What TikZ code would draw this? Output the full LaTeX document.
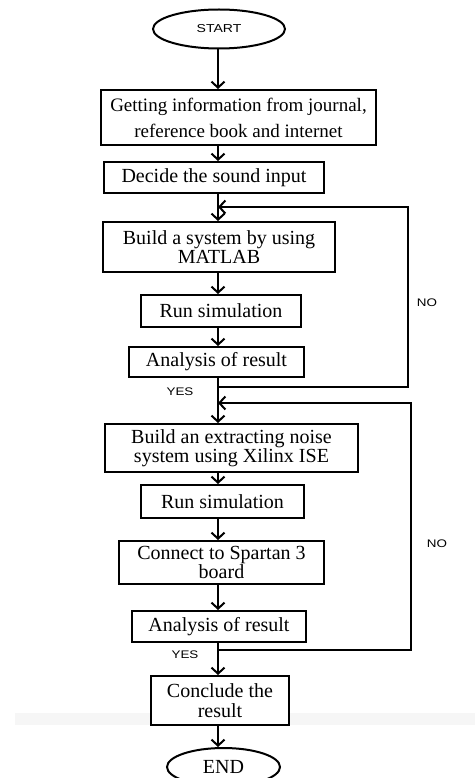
\documentclass[tikz,border=0pt]{standalone}
\usepackage{fontspec}
\setmainfont{Liberation Serif}
\newfontfamily\labelsf[FakeStretch=1.22]{Liberation Sans}
\usepackage{tikz}
\usetikzlibrary{arrows.meta}
\usetikzlibrary{shapes.geometric}

\begin{document}
\begin{tikzpicture}[x=1pt, y=-1pt,
	stepbox/.style={draw, line width=2pt, fill=white, rectangle, align=center, inner sep=0pt,
		font=\fontsize{20}{19.5}\selectfont},
	term/.style={draw, line width=2pt, fill=white, ellipse, inner sep=0pt},
	flow/.style={line width=2pt, -{Straight Barb[length=6pt, width=13pt]}},
	tag/.style={font=\labelsf\fontsize{11}{12}\selectfont, inner sep=0pt}]
	\useasboundingbox (0,0) rectangle (475,778);
	% faint band of the scan
	\fill [gray!7] (15,713) rectangle (475,725);

	% main column
	\coordinate (spine) at (218,0);
	\node [term, minimum width=132, minimum height=39, font=\labelsf\fontsize{11.5}{12}\selectfont] (start) at (219,29) {START};
	\node [stepbox, minimum width=275, minimum height=55, font=\fontsize{19}{18}\selectfont] (info) at (238.5,117.5) {Getting information from journal,\\[8pt]reference book and internet};
	\node [stepbox, minimum width=220, minimum height=31] (decide) at (214,177.5) {Decide the sound input};
	\node [stepbox, minimum width=232, minimum height=50] (matlab) at (219,247) {Build a system by using\\MATLAB};
	\node [stepbox, minimum width=160, minimum height=32] (simA) at (221,311) {Run simulation};
	\node [stepbox, minimum width=175, minimum height=30] (resultA) at (216.5,362) {Analysis of result};
	\node [stepbox, minimum width=253, minimum height=48] (xilinx) at (231.5,448) {Build an extracting noise\\system using Xilinx ISE};
	\node [stepbox, minimum width=163, minimum height=33] (simB) at (222.5,501.5) {Run simulation};
	\node [stepbox, minimum width=205, minimum height=43] (spartan) at (221.5,562.5) {Connect to Spartan 3\\board};
	\node [stepbox, minimum width=174, minimum height=31] (resultB) at (219,626.5) {Analysis of result};
	\node [stepbox, minimum width=138, minimum height=49] (conclude) at (220,700.5) {Conclude the\\result};
	\node [term, minimum width=113, minimum height=38, font=\fontsize{20}{18}\selectfont] (finish) at (223.5,767) {END};

	% arrows down the column
	\draw [flow] (start.south -| spine) -- (info.north -| spine);
	\draw [flow] (info.south -| spine) -- (decide.north -| spine);
	\draw [flow] (decide.south -| spine) -- (matlab.north -| spine);
	\draw [flow] (matlab.south -| spine) -- (simA.north -| spine);
	\draw [flow] (simA.south -| spine) -- (resultA.north -| spine);
	\draw [flow] (resultA.south -| spine) -- (xilinx.north -| spine);
	\draw [flow] (xilinx.south -| spine) -- (simB.north -| spine);
	\draw [flow] (simB.south -| spine) -- (spartan.north -| spine);
	\draw [flow] (spartan.south -| spine) -- (resultB.north -| spine);
	\draw [flow] (resultB.south -| spine) -- (conclude.north -| spine);
	\draw [flow] (conclude.south -| spine) -- (finish.north -| spine);

	% loops back when NO
	\draw [flow] (resultA.south -| spine) ++(0,9) -| (408,207) -- (spine |- 0,207);
	\draw [flow] (resultB.south -| spine) ++(0,7) -| (411,403) -- (spine |- 0,403);

	\node [tag] (yesA) at (180,392) {YES};
	\node [tag] (noA) at (427,303) {NO};
	\node [tag] (yesB) at (185,655) {YES};
	\node [tag] (noB) at (437,544) {NO};
\end{tikzpicture}
\end{document}
